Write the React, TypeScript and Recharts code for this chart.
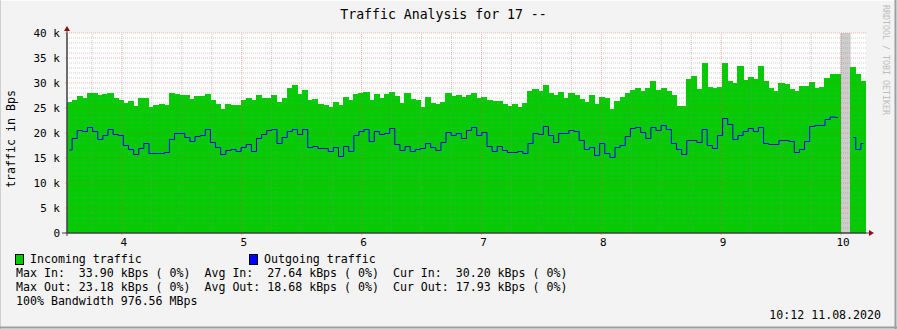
import React from "react";
import { ComposedChart, Bar, Line, XAxis, YAxis, CartesianGrid, ReferenceLine, ReferenceArea } from "recharts";

const FONT = '"DejaVu Sans Mono", "Liberation Mono", monospace';
const BACK = "#f3f3f3";
const CANVAS = "#ffffff";
const IN_COLOR = "#00cc00";
const OUT_COLOR = "#0000ff";
const UNKNOWN = "#cdcdcd";
const GRID = "rgba(140,140,140,0.45)";
const MGRID = "rgba(224,80,80,0.45)";
const AXIS = "#404040";
const ARROW = "#901010";

// kBps per rrd step, left to right (null = unknown)
const INCOMING: (number | null)[] = [
  26.0, 26.4, 27.2, 26.8, 27.8, 27.8, 27.5, 27.7, 27.9, 26.8,
  26.4, 25.9, 26.2, 25.2, 26.8, 26.9, 25.0, 25.4, 25.6, 25.4,
  27.9, 27.6, 27.4, 27.4, 26.6, 27.2, 27.2, 27.6, 26.4, 25.6,
  24.7, 25.6, 25.4, 25.4, 26.4, 26.9, 26.4, 27.4, 26.8, 26.8,
  27.4, 26.0, 26.8, 28.8, 29.4, 27.7, 28.4, 26.4, 26.6, 25.6,
  25.4, 25.0,
  26.0, 25.4, 27.0, 26.4, 27.6, 27.8, 28.0, 26.4, 27.6, 26.8,
  27.6, 28.0, 27.2, 25.9, 27.8, 26.6, 26.4, 25.0, 27.0, 25.9,
  25.7, 26.0, 27.8, 27.2, 27.4, 27.0, 27.4, 27.8, 26.8, 27.0,
  26.4, 26.2, 26.2, 25.6, 25.2, 25.6, 25.0, 25.9, 28.2, 28.6,
  28.2, 29.4, 27.8, 27.4, 28.0, 26.8, 27.8, 27.4, 26.6, 26.0,
  27.4, 25.6,
  27.0, 26.8, 24.7, 26.2, 27.0, 27.8, 28.4, 28.8, 28.2, 28.8,
  30.2, 28.4, 28.8, 28.2, 27.4, 25.2, 25.2, 30.6, 31.2, 28.6,
  33.9, 29.0, 28.8, 29.0, 33.8, 30.2, 29.8, 33.2, 30.4, 31.0,
  30.6, 33.2, 30.2, 28.8, 28.2, 29.8, 29.6, 28.6, 28.2, 29.2,
  29.2, 30.0, 28.8, 29.0, 30.8, 31.6, 31.6, null, null, 33.0,
  31.6, 30.2,
];

const OUTGOING: (number | null)[] = [
  16.6, 18.9, 20.5, 20.3, 21.1, 20.3, 18.7, 19.5, 20.7, 19.7,
  19.5, 17.5, 16.7, 15.7, 16.9, 17.9, 15.9, 15.9, 15.9, 16.1,
  18.7, 19.9, 19.9, 19.1, 18.3, 19.3, 19.5, 20.7, 18.1, 17.1,
  15.7, 16.5, 16.7, 16.3, 17.1, 17.7, 16.3, 18.9, 19.7, 20.5,
  20.7, 17.9, 19.1, 20.3, 20.7, 19.7, 20.7, 17.1, 17.3, 16.9,
  16.9, 16.3,
  17.1, 15.3, 17.3, 16.3, 19.5, 20.3, 20.7, 18.3, 20.3, 19.7,
  19.9, 20.9, 17.7, 16.5, 17.3, 16.3, 16.7, 16.9, 17.9, 17.1,
  16.5, 18.1, 20.1, 19.5, 19.9, 18.9, 20.5, 21.1, 19.5, 20.1,
  17.3, 16.3, 17.3, 16.5, 16.1, 16.1, 16.3, 15.9, 17.9, 19.9,
  19.7, 21.3, 19.5, 18.1, 19.9, 19.9, 20.5, 20.3, 18.5, 16.7,
  17.1, 15.5,
  17.9, 15.9, 15.1, 17.1, 17.5, 19.3, 20.9, 21.1, 20.1, 18.9,
  21.1, 20.5, 21.5, 20.7, 17.9, 16.7, 15.7, 18.5, 18.5, 18.1,
  20.7, 17.5, 16.9, 19.5, 22.9, 21.7, 18.7, 19.5, 20.3, 20.9,
  20.3, 21.1, 17.9, 17.7, 17.7, 18.5, 18.5, 18.3, 16.1, 16.7,
  18.3, 21.3, 21.5, 21.5, 22.7, 23.2, 23.1, null, null, 19.1,
  16.7, 17.9,
];

// time window in hours of the day
const START_H = 3.5417;
const END_H = 10.2083;
const STEP_H = (END_H - START_H) / INCOMING.length;
const TIMES = INCOMING.map((_, i) => START_H + (i + 0.5) * STEP_H);

const HOUR_TICKS = [4, 5, 6, 7, 8, 9, 10];
const QUARTER_LINES = [3.75, 4.25, 4.5, 4.75, 5.25, 5.5, 5.75, 6.25, 6.5, 6.75, 7.25, 7.5, 7.75, 8.25, 8.5, 8.75, 9.25, 9.5, 9.75];
const VALUE_TICKS = [0, 5, 10, 15, 20, 25, 30, 35, 40];
const MINOR_VALUES = Array.from({ length: 40 }, (_, i) => i).filter((v) => v > 0 && v % 5 !== 0);

const LEGEND = [
  { label: "Incoming traffic", color: IN_COLOR, x: 15 },
  { label: "Outgoing traffic", color: OUT_COLOR, x: 249 },
];
const STATS = [
  "Max In:  33.90 kBps ( 0%)  Avg In:  27.64 kBps ( 0%)  Cur In:  30.20 kBps ( 0%)",
  "Max Out: 23.18 kBps ( 0%)  Avg Out: 18.68 kBps ( 0%)  Cur Out: 17.93 kBps ( 0%)",
  "100% Bandwidth 976.56 MBps",
];

const data = TIMES.map((t, i) => ({ t, incoming: INCOMING[i], outgoing: OUTGOING[i] }));
const unknown = INCOMING.map((v, i) => (v === null ? i : -1)).filter((i) => i >= 0);
const unknownFrom = START_H + unknown[0] * STEP_H;
const unknownTo = START_H + (unknown[unknown.length - 1] + 1) * STEP_H;

export default function App() {
  return (
    <div style={{ position: "fixed", left: 0, top: 0, width: 897, height: 329, background: BACK, fontFamily: FONT }}>
      <ComposedChart
        width={897}
        height={329}
        data={data}
        margin={{ top: 33, right: 31, bottom: 76, left: 7 }}
        barCategoryGap={0}
        barGap={0}
      >
        <CartesianGrid horizontal={false} vertical={false} fill={CANVAS} />
        <XAxis
          dataKey="t"
          type="number"
          domain={[START_H, END_H]}
          allowDataOverflow
          ticks={HOUR_TICKS}
          tickFormatter={(h) => String(h)}
          height={20}
          tick={{ fontSize: 11, fill: "#000", fontFamily: FONT, dx: 2 }}
          axisLine={{ stroke: AXIS }}
          tickLine={{ stroke: MGRID }}
          tickSize={2}
          tickMargin={3}
        />
        <YAxis
          domain={[0, 40]}
          ticks={VALUE_TICKS}
          allowDataOverflow
          width={60}
          tickFormatter={(v) => (v === 0 ? "0" : `${v} k`)}
          tick={{ fontSize: 11, fill: "#000", fontFamily: FONT }}
          axisLine={{ stroke: AXIS }}
          tickLine={{ stroke: MGRID }}
          tickSize={2}
          tickMargin={5}
        />
        <Bar
          dataKey="incoming"
          fill={IN_COLOR}
          stroke={IN_COLOR}
          strokeWidth={1.2}
          shapeRendering="crispEdges"
          isAnimationActive={false}
        />
        <ReferenceArea x1={unknownFrom} x2={unknownTo} y1={0} y2={40} fill={UNKNOWN} fillOpacity={1} stroke="none" />
        {MINOR_VALUES.map((v) => (
          <ReferenceLine key={`gy${v}`} y={v} stroke={GRID} strokeDasharray="1 1" />
        ))}
        {QUARTER_LINES.map((h) => (
          <ReferenceLine key={`gx${h}`} x={h} stroke={GRID} strokeDasharray="1 1" />
        ))}
        {VALUE_TICKS.filter((v) => v > 0).map((v) => (
          <ReferenceLine key={`my${v}`} y={v} stroke={MGRID} strokeDasharray="1 1" />
        ))}
        {HOUR_TICKS.map((h) => (
          <ReferenceLine key={`mx${h}`} x={h} stroke={MGRID} strokeDasharray="1 1" />
        ))}
        <Line
          type="step"
          dataKey="outgoing"
          stroke={OUT_COLOR}
          strokeWidth={1}
          dot={false}
          activeDot={false}
          isAnimationActive={false}
        />
      </ComposedChart>

      <svg width={897} height={329} style={{ position: "absolute", left: 0, top: 0, pointerEvents: "none" }}>
        {/* frame */}
        <line x1={0} y1={0.5} x2={897} y2={0.5} stroke="#fcfcfc" />
        <line x1={0.5} y1={0} x2={0.5} y2={329} stroke="#cfcfcf" />
        <line x1={0} y1={327.5} x2={897} y2={327.5} stroke="#9e9e9e" strokeWidth={2} />
        <line x1={895.5} y1={0} x2={895.5} y2={329} stroke="#9e9e9e" strokeWidth={2} />
        {/* axis extensions and arrows */}
        <line x1={67} y1={236} x2={67} y2={30} stroke={AXIS} />
        <line x1={62} y1={233} x2={870} y2={233} stroke={AXIS} />
        <polygon points="64,31 70,31 67,26" fill={ARROW} />
        <polygon points="869,230 869,236 874,233" fill={ARROW} />

        <text x={443.5} y={19} textAnchor="middle" fontSize={13.2} fontFamily={FONT} fill="#000">
          Traffic Analysis for 17 --
        </text>
        <text
          x={14.5}
          y={139}
          transform="rotate(-90 14.5 139)"
          textAnchor="middle"
          fontSize={11.6}
          fontFamily={FONT}
          fill="#000"
        >
          traffic in Bps
        </text>
        <text
          x={883}
          y={60}
          transform="rotate(90 883 60)"
          textAnchor="middle"
          fontSize={8.3}
          fontFamily={FONT}
          fill="#bdbdbd"
        >
          RRDTOOL / TOBI OETIKER
        </text>

        {LEGEND.map((l) => (
          <g key={l.label}>
            <rect x={l.x + 0.5} y={254.5} width={8} height={10} fill={l.color} stroke="#000" strokeWidth={1} />
            <text x={l.x + 15} y={263} fontSize={11.6} fontFamily={FONT} fill="#000" style={{ whiteSpace: "pre" }}>
              {l.label}
            </text>
          </g>
        ))}
        {STATS.map((s, i) => (
          <text key={i} x={16} y={277 + i * 14} fontSize={11.6} fontFamily={FONT} fill="#000" style={{ whiteSpace: "pre" }}>
            {s}
          </text>
        ))}
        <text x={881} y={319} textAnchor="end" fontSize={11.6} fontFamily={FONT} fill="#000">
          10:12 11.08.2020
        </text>
      </svg>
    </div>
  );
}
